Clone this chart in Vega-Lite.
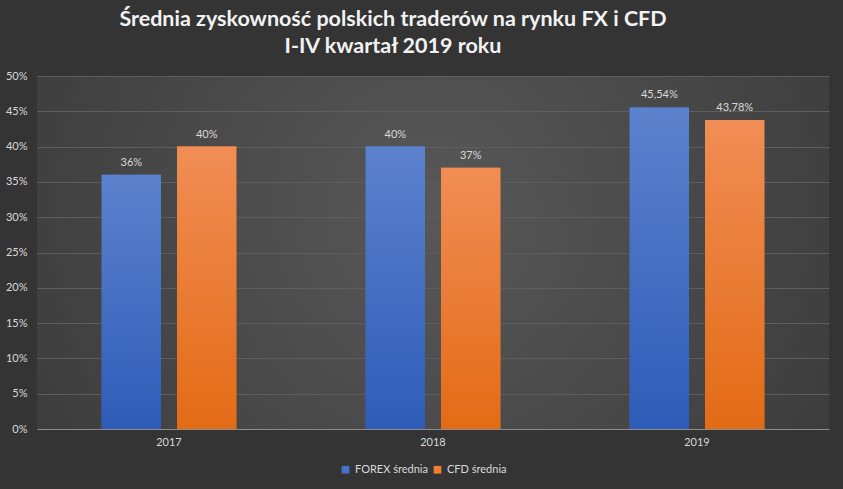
{
  "$schema": "https://vega.github.io/schema/vega-lite/v6.json",
  "width": 792,
  "height": 353,
  "autosize": {"type": "none"},
  "padding": {"left": 37, "top": 76, "right": 14, "bottom": 60},
  "background": "#343434",
  "title": {
    "text": ["Średnia zyskowność polskich traderów na rynku FX i CFD", "I-IV kwartał 2019 roku"],
    "anchor": "middle",
    "dx": -40,
    "offset": 13,
    "fontSize": 21.5,
    "lineHeight": 27,
    "font": "Lato",
    "fontWeight": "bold",
    "color": "#f2f2f2"
  },
  "config": {
    "locale": {"number": {"decimal": ",", "thousands": " ", "grouping": [3], "currency": ["", " zł"]}},
    "font": "Lato",
    "view": {
      "stroke": null,
      "fill": {
        "gradient": "radial",
        "x1": 0.5, "y1": 0.45, "x2": 0.5, "y2": 0.45,
        "r1": 0, "r2": 0.75,
        "stops": [{"offset": 0, "color": "#585858"}, {"offset": 1, "color": "#343434"}]
      }
    }
  },
  "data": {
    "values": [
      {"year": "2017", "series": "FOREX średnia", "value": 0.36},
      {"year": "2017", "series": "CFD średnia", "value": 0.40},
      {"year": "2018", "series": "FOREX średnia", "value": 0.40},
      {"year": "2018", "series": "CFD średnia", "value": 0.37},
      {"year": "2019", "series": "FOREX średnia", "value": 0.4554},
      {"year": "2019", "series": "CFD średnia", "value": 0.4378}
    ]
  },
  "encoding": {
    "x": {
      "field": "year", "type": "nominal",
      "scale": {"paddingInner": 0.49, "paddingOuter": 0.245},
      "axis": {
        "title": null, "labelAngle": 0, "ticks": false, "labelPadding": 7,
        "labelColor": "#d9d9d9", "labelFontSize": 11, "labelFont": "Lato",
        "domainColor": "#8c8c8c", "domainWidth": 1, "grid": false
      }
    },
    "xOffset": {
      "field": "series", "type": "nominal",
      "sort": ["FOREX średnia", "CFD średnia"],
      "scale": {"paddingInner": 0.213, "paddingOuter": 0}
    },
    "y": {
      "field": "value", "type": "quantitative",
      "scale": {"domain": [0, 0.5]},
      "axis": {
        "title": null, "format": ".0%", "values": [0, 0.05, 0.1, 0.15, 0.2, 0.25, 0.3, 0.35, 0.4, 0.45, 0.5],
        "labelOverlap": false, "labelFlush": false,
        "domain": false, "ticks": false, "labelPadding": 10,
        "labelColor": "#d9d9d9", "labelFontSize": 11, "labelFont": "Lato",
        "gridColor": "#5e5e5e", "gridWidth": 1
      }
    }
  },
  "layer": [
    {
      "mark": {"type": "bar"},
      "encoding": {
        "color": {
          "field": "series", "type": "nominal",
          "sort": ["FOREX średnia", "CFD średnia"],
          "scale": {"domain": ["FOREX średnia", "CFD średnia"], "range": ["#4472c4", "#ed7d31"]},
          "legend": {
            "title": null, "orient": "none", "direction": "horizontal",
            "legendX": 303, "legendY": 388,
            "symbolType": "square", "symbolSize": 60, "symbolStrokeWidth": 0,
            "labelColor": "#d9d9d9", "labelFontSize": 11, "labelFont": "Lato",
            "columnPadding": 4, "labelOffset": 4
          }
        }
      }
    },
    {
      "mark": {"type": "bar"},
      "encoding": {
        "fill": {
          "condition": {
            "test": "datum.series === 'FOREX średnia'",
            "value": {
              "gradient": "linear", "x1": 0, "y1": 0, "x2": 0, "y2": 1,
              "stops": [{"offset": 0, "color": "#5c82cd"}, {"offset": 1, "color": "#2d5cb8"}]
            }
          },
          "value": {
            "gradient": "linear", "x1": 0, "y1": 0, "x2": 0, "y2": 1,
            "stops": [{"offset": 0, "color": "#f18d55"}, {"offset": 1, "color": "#e36b15"}]
          }
        }
      }
    },
    {
      "mark": {"type": "text", "baseline": "bottom", "dy": -7, "fontSize": 11, "color": "#d9d9d9", "font": "Lato"},
      "encoding": {
        "text": {"field": "value", "type": "quantitative", "format": ".2~%"}
      }
    }
  ]
}
